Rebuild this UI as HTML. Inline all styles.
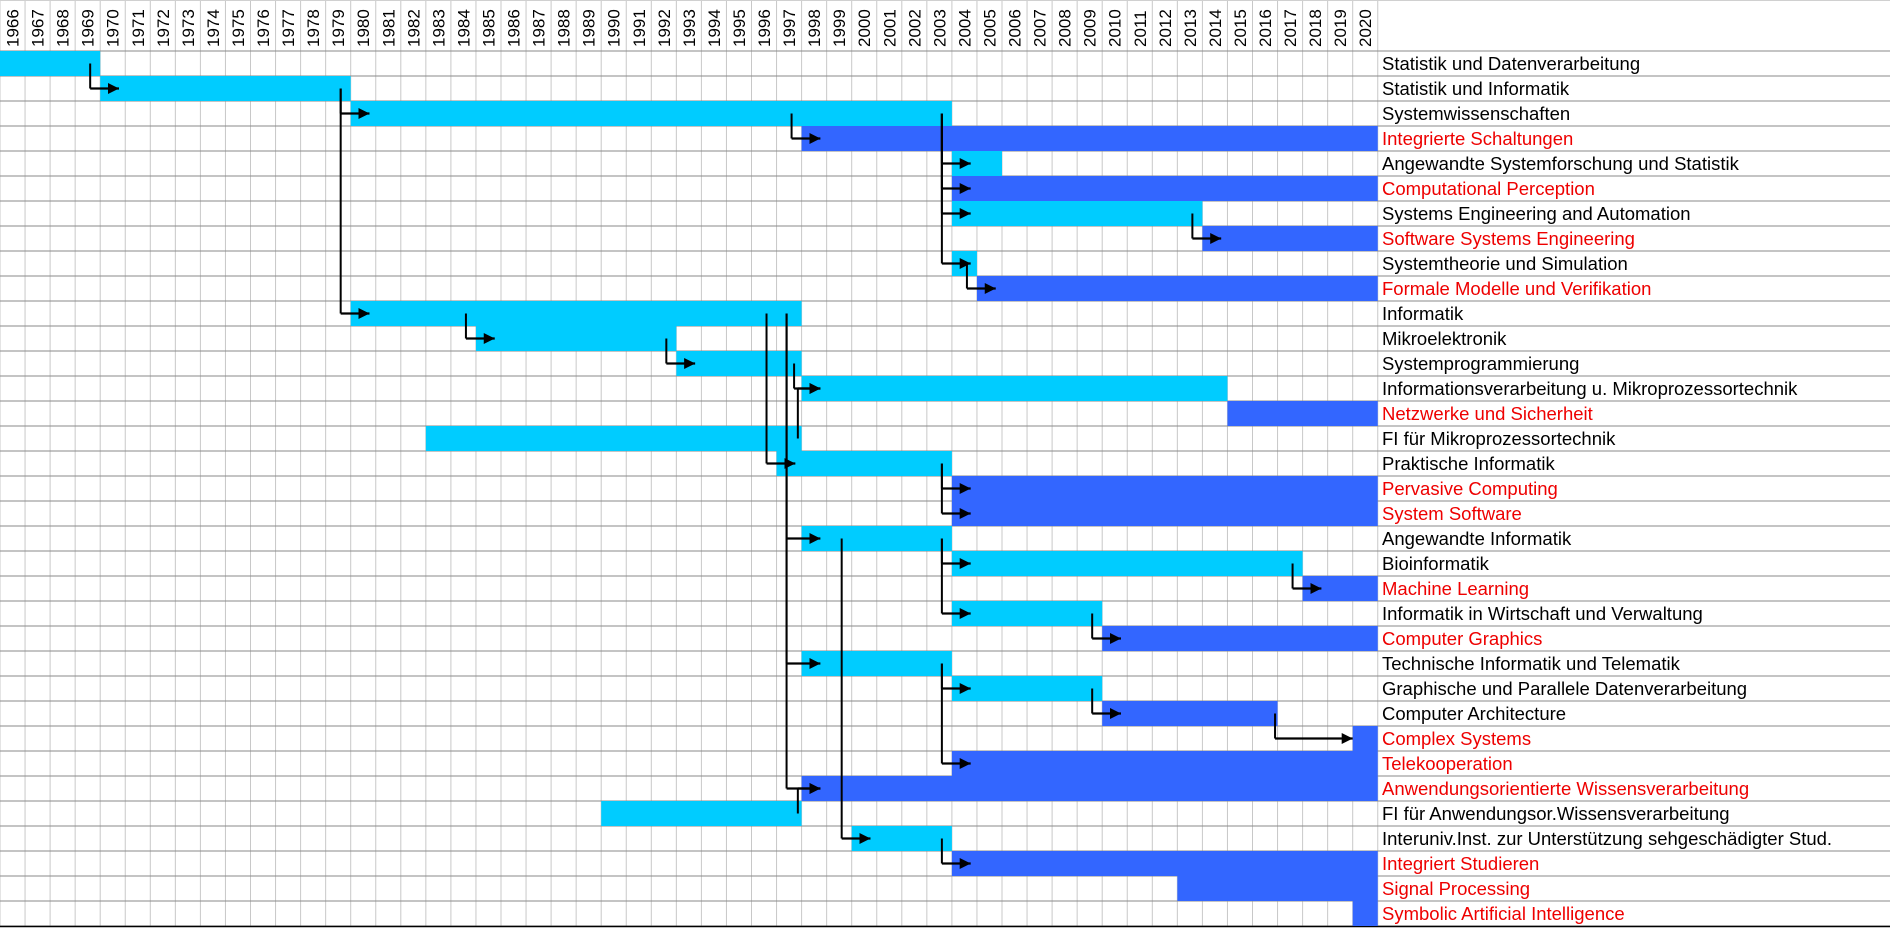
<!DOCTYPE html>
<html><head><meta charset="utf-8"><style>
html,body{margin:0;padding:0;background:#fff;}
svg{display:block;font-family:"Liberation Sans",Arial,sans-serif;}
</style></head><body>
<svg id="chart" width="1890" height="928" viewBox="0 0 1890 928" xmlns="http://www.w3.org/2000/svg"></svg>
<script>
const years = [];
for (let y = 1966; y <= 2020; y++) years.push(y);
const labels = ["Statistik und Datenverarbeitung","Statistik und Informatik","Systemwissenschaften","Integrierte Schaltungen","Angewandte Systemforschung und Statistik","Computational Perception","Systems Engineering and Automation","Software Systems Engineering","Systemtheorie und Simulation","Formale Modelle und Verifikation","Informatik","Mikroelektronik","Systemprogrammierung","Informationsverarbeitung u. Mikroprozessortechnik","Netzwerke und Sicherheit","FI für Mikroprozessortechnik","Praktische Informatik","Pervasive Computing","System Software","Angewandte Informatik","Bioinformatik","Machine Learning","Informatik in Wirtschaft und Verwaltung","Computer Graphics","Technische Informatik und Telematik","Graphische und Parallele Datenverarbeitung","Computer Architecture","Complex Systems","Telekooperation","Anwendungsorientierte Wissensverarbeitung","FI für Anwendungsor.Wissensverarbeitung","Interuniv.Inst. zur Unterstützung sehgeschädigter Stud.","Integriert Studieren","Signal Processing","Symbolic Artificial Intelligence"];
const startYears = [1966,1970,1980,1998,2004,2004,2004,2014,2004,2005,1980,1985,1993,1998,2015,1983,1997,2004,2004,1998,2004,2018,2004,2010,1998,2004,2010,2020,2004,1998,1990,2000,2004,2013,2020];
const endYears   = [1970,1980,2004,2021,2006,2021,2014,2021,2005,2021,1998,1993,1998,2015,2021,1998,2004,2021,2021,2004,2018,2021,2010,2021,2004,2010,2017,2021,2021,2021,1998,2004,2021,2021,2021];
const barKinds   = [0,0,0,1,0,1,0,1,0,1,0,0,0,0,1,0,0,1,1,0,0,1,0,1,0,0,1,1,1,1,0,0,1,1,1];
const redLabel   = [0,0,0,1,0,1,0,1,0,1,0,0,0,0,1,0,0,1,1,0,0,1,0,1,0,0,0,1,1,1,0,0,1,1,1];
// connectors: from row, to row, vertical line year position
const linkFrom = [0,1,1,2,2,2,2,2,6,8,10,11,12,15,10,10,10,10,30,16,16,19,19,19,20,22,24,24,25,26,31];
const linkTo   = [1,2,10,3,4,5,6,8,7,9,11,12,13,13,16,19,24,29,29,17,18,31,20,22,21,23,25,28,26,27,32];
const linkX    = [1969.6,1979.6,1979.6,1997.6,2003.6,2003.6,2003.6,2003.6,2013.6,2004.6,1984.6,1992.6,1997.7,1997.85,1996.6,1997.4,1997.4,1997.4,1997.85,2003.6,2003.6,1999.6,2003.6,2003.6,2017.6,2009.6,2003.6,2003.6,2009.6,2016.9,2003.6];

const svg = document.getElementById('chart');
const NS = 'http://www.w3.org/2000/svg';
const colW = 25.05, top0 = 51, rowH = 25, labelX = 1378;
const xs = y => (y - 1966) * colW;
const ys = r => top0 + r * rowH;
function mk(tag, attrs, parent) {
  const e = document.createElementNS(NS, tag);
  for (const k in attrs) e.setAttribute(k, attrs[k]);
  (parent || svg).appendChild(e);
  return e;
}
const defs = mk('defs', {});
const mark = mk('marker', {id:'ah', viewBox:'0 0 10 10', refX:'10', refY:'5', markerWidth:'5', markerHeight:'5', orient:'auto', markerUnits:'strokeWidth'}, defs);
mk('path', {d:'M0,0 L10,5 L0,10 z', fill:'#000'}, mark);

// grid
const grid = mk('g', {});


for (let i = 0; i <= years.length; i++) {
  const ln = mk('line', {x1:xs(1966+i), x2:xs(1966+i), y1:0, y2:926, stroke:'#c8c8c8', 'stroke-width':1}, grid);
  
  
}
mk('line', {x1:0, x2:1890, y1:0.5, y2:0.5, stroke:'#d0d0d0', 'stroke-width':1}, grid);
for (let r = 0; r <= labels.length; r++) {
  const ln = mk('line', {x1:0, x2:1890, y1:ys(r), y2:ys(r), stroke:'#8a8a8a', 'stroke-width':1}, grid);
  
  
}
mk('line', {x1:0, x2:1890, y1:926.5, y2:926.5, stroke:'#000', 'stroke-width':1.5}, grid);

// year headers
years.forEach(y => {
  const cx = xs(y) + colW / 2 + 6;
  const t = mk('text', {x:0, y:0, transform:`translate(${cx},47) rotate(-90)`, 'font-size':'17', fill:'#000'});
  
  
  t.textContent = y;
});

// bars + labels
labels.forEach((lab, r) => {
  const b = mk('rect', {x:xs(startYears[r]), y:ys(r), width:xs(endYears[r]) - xs(startYears[r]), height:rowH, fill: barKinds[r] ? '#3366ff' : '#00ccff'});
  
  
  const t = mk('text', {x:labelX + 4, y:ys(r) + 19, 'font-size':'18.5', fill: redLabel[r] ? '#ee0000' : '#000'});
  
  
  t.textContent = lab;
});

// connectors
linkFrom.forEach((f, i) => {
  const to = linkTo[i];
  const x = xs(linkX[i]);
  const yf = ys(f) + rowH / 2, yt = ys(to) + rowH / 2;
  const g = mk('g', {});
  
  
  mk('line', {x1:x, x2:x, y1:yf, y2:yt, stroke:'#000', 'stroke-width':2}, g);
  const sx = xs(startYears[to]);
  let tip = sx - x > colW * 1.5 ? sx : sx + colW * 0.75;
  mk('line', {x1:x, x2:tip, y1:yt, y2:yt, stroke:'#000', 'stroke-width':2.2, 'marker-end':'url(#ah)'}, g);
});
</script>
</body></html>
